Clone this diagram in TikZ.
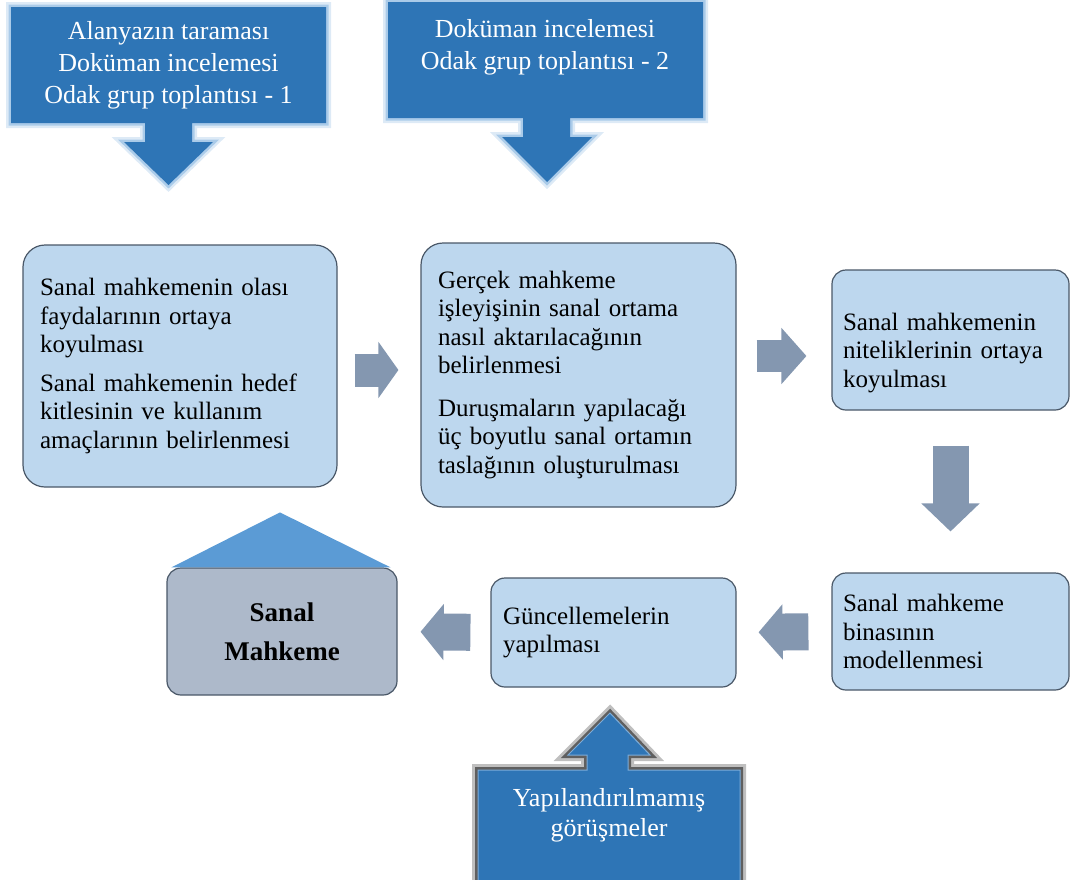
\documentclass[tikz,border=0pt]{standalone}
\usepackage{fontspec}
\setmainfont{Liberation Serif}
\newfontfamily\boxfont[WordSpace=1.4]{Liberation Serif}
\usepackage{tikz}
\usetikzlibrary{arrows.meta}
\definecolor{calloutblue}{HTML}{2E75B6}
\definecolor{glowblue}{HTML}{9DC3E6}
\definecolor{boxfill}{HTML}{BDD7EE}
\definecolor{boxborder}{HTML}{4A5868}
\definecolor{arrowgray}{HTML}{8497B0}
\definecolor{housefill}{HTML}{ADB9CA}
\definecolor{roofblue}{HTML}{5B9BD5}
\tikzstyle{materia}=[draw=boxborder, fill=boxfill, line width=1.2pt, align=left,
font=\boxfont\fontsize{25}{28.5}\selectfont, inner ysep=0pt]
\tikzstyle{block} = [materia, rounded corners=22pt]
\tikzstyle{smallblock} = [materia, rounded corners=14pt]
\tikzstyle{callout}=[fill=calloutblue, preaction={draw=glowblue, line width=10pt, opacity=0.35},
preaction={draw=glowblue, line width=5pt, opacity=0.8}]
\tikzstyle{lowcallout}=[fill=calloutblue, draw=glowblue!70!calloutblue, line width=1pt,
preaction={draw=black, line width=12pt, opacity=0.25},
preaction={draw=black, line width=6pt, opacity=0.5}]
\tikzstyle{calltext}=[text=white, align=center, font=\fontsize{26}{32}\selectfont]
\tikzstyle{fatarrow}=[draw=arrowgray, line cap=butt]

\begin{document}
\begin{tikzpicture}
	[x=1pt, y=-1pt]
	\useasboundingbox (0,0) rectangle (1071,879);

	\path[callout] (11,7) -- (326,7) -- (326,123) -- (192,123) -- (192,142) -- (213,142)
	  -- (168.5,185) -- (124,142) -- (145,142) -- (145,123) -- (11,123) -- cycle;
	\node[calltext] (c1) at (168.5,65) {Alanyazın taraması\\ Doküman incelemesi\\ Odak grup toplantısı - 1};

	\path[callout] (388,2) -- (703,2) -- (703,118) -- (570,118) -- (570,137) -- (592,137)
	  -- (547,182) -- (502,137) -- (523,137) -- (523,118) -- (388,118) -- cycle;
	\node[calltext] (c2) at (545,47) {Doküman incelemesi\\ Odak grup toplantısı - 2};

	\node[block, minimum width=314pt, minimum height=242pt, text width=280pt, inner xsep=17pt] (1) at (180,366)
	  {Sanal mahkemenin olası\\ faydalarının ortaya\\ koyulması\\[10pt] Sanal mahkemenin hedef\\ kitlesinin ve kullanım\\ amaçlarının belirlenmesi};
	\node[block, minimum width=315pt, minimum height=264pt, text width=281pt, inner xsep=17pt] (2) at (578.5,375)
	  {Gerçek mahkeme\\ işleyişinin sanal ortama\\ nasıl aktarılacağının\\ belirlenmesi\\[14pt] Duruşmaların yapılacağı\\ üç boyutlu sanal ortamın\\ taslağının oluşturulması};
	\node[smallblock, minimum width=237pt, minimum height=140pt, text width=215pt, inner xsep=11pt] (3) at (950.5,340)
	  {\rule{0pt}{43pt}Sanal mahkemenin\\ niteliklerinin ortaya\\ koyulması};
	\node[smallblock, minimum width=237pt, minimum height=117pt, text width=215pt, inner xsep=11pt] (4) at (950.5,631.5)
	  {Sanal mahkeme\\ binasının\\ modellenmesi};
	\node[smallblock, minimum width=245pt, minimum height=109pt, text width=221pt, inner xsep=12pt] (5) at (613.5,632.5)
	  {Güncellemelerin\\ yapılması};
	\node[smallblock, fill=housefill, align=center, minimum width=230pt, minimum height=127pt,
	  font=\fontsize{27}{39}\selectfont\bfseries] (6) at (282,631.5) {Sanal\\ Mahkeme};
	\fill[roofblue] ([xshift=5pt]6.north west) -- ([xshift=-2pt, yshift=55pt]6.north)
	  -- ([xshift=-7pt]6.north east) -- cycle;

	\path[lowcallout] (610,713) -- (650,755) -- (628,755) -- (628,770) -- (740,770) -- (740,895)
	  -- (478,895) -- (478,770) -- (587,770) -- (587,755) -- (568,755) -- cycle;
	\node[calltext, font=\fontsize{26}{30}\selectfont] (c3) at (609,815) {Yapılandırılmamış\\ görüşmeler};

	\draw[fatarrow, line width=33pt, -{Triangle[length=20pt, width=56pt, line width=2pt]},
	  shorten <=17pt, shorten >=22pt] ([yshift=-4pt]1.east) -- ([yshift=5pt]2.west);
	\draw[fatarrow, line width=32pt, -{Triangle[length=25pt, width=56pt, line width=2pt]},
	  shorten <=20pt, shorten >=25pt] ([yshift=19pt]2.east) -- ([yshift=-16pt]3.west);
	\draw[fatarrow, line width=36pt, -{Triangle[length=28pt, width=58pt, line width=2pt]},
	  shorten <=35pt, shorten >=41pt] (3.south) -- (4.north);
	\draw[fatarrow, line width=37pt, -{Triangle[length=24pt, width=55pt, line width=2pt]},
	  shorten <=23pt, shorten >=22pt] (4.west) -- (5.east);
	\draw[fatarrow, line width=37pt, -{Triangle[length=23pt, width=56pt, line width=2pt]},
	  shorten <=20pt, shorten >=23pt] (5.west) -- (6.east);
\end{tikzpicture}
\end{document}
